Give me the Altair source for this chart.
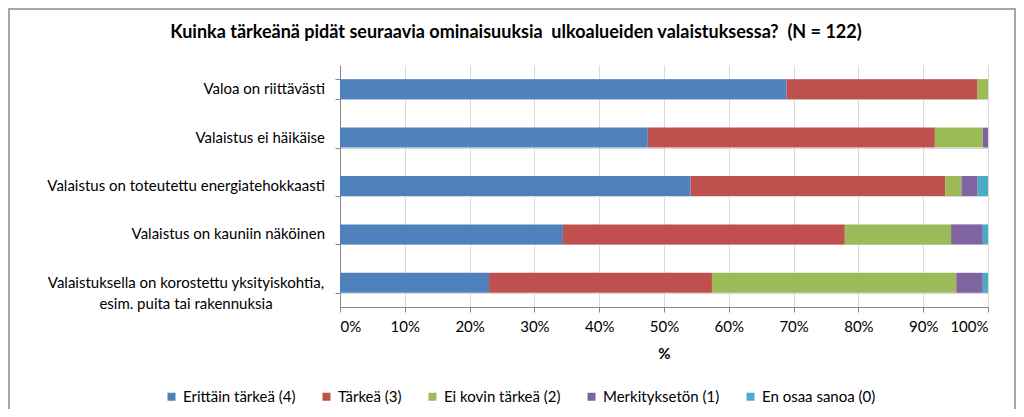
import altair as alt
import pandas as pd

title_text = "Kuinka tärkeänä pidät seuraavia ominaisuuksia\u00a0 ulkoalueiden valaistuksessa?\u00a0 (N = 122)"
items = [
    "Valoa on riittävästi",
    "Valaistus ei häikäise",
    "Valaistus on toteutettu energiatehokkaasti",
    "Valaistus on kauniin näköinen",
    "Valaistuksella on korostettu yksityiskohtia,|esim. puita tai rakennuksia",
]
levels = ["Erittäin tärkeä (4)", "Tärkeä (3)", "Ei kovin tärkeä (2)", "Merkityksetön (1)", "En osaa sanoa (0)"]
colors = ["#4F81BD", "#C0504D", "#9BBB59", "#8064A2", "#4BACC6"]

erittain_tarkea = [68.9, 47.5, 54.1, 34.4, 23.0]
tarkea = [29.5, 44.3, 39.3, 43.5, 34.4]
ei_kovin_tarkea = [1.6, 7.4, 2.5, 16.4, 37.7]
merkitykseton = [0.0, 0.8, 2.5, 4.9, 4.1]
en_osaa_sanoa = [0.0, 0.0, 1.6, 0.8, 0.8]
x_ticks = [0, 10, 20, 30, 40, 50, 60, 70, 80, 90, 100]

series = [erittain_tarkea, tarkea, ei_kovin_tarkea, merkitykseton, en_osaa_sanoa]
rows = []
for li, (lev, vals) in enumerate(zip(levels, series)):
    for it, v in zip(items, vals):
        rows.append({"item": it, "level": lev, "order": li, "value": v})
df = pd.DataFrame(rows)
labels_df = pd.DataFrame({"item": items, "multi": ["|" in s for s in items]})

FONT = "Lato"
LBL = 15
y_enc = alt.Y("item:N", sort=items, scale=alt.Scale(paddingInner=0.587, paddingOuter=0.2935),
              axis=alt.Axis(title=None, labels=False, tickBand="extent", grid=True, gridColor="#d9d9d9",
                            domainColor="#868686", tickColor="#868686", tickSize=5))

bars = alt.Chart(df).mark_bar(size=20).encode(
    y=y_enc,
    x=alt.X("value:Q", stack="zero", scale=alt.Scale(domain=[0, 100], nice=False),
            axis=alt.Axis(values=x_ticks, labelExpr="datum.value + '%'", title="%",
                          grid=True, gridColor="#d9d9d9", domainColor="#868686", tickColor="#868686",
                          tickSize=5, labelFont=FONT, labelFontSize=LBL, labelColor="#000000",
                          labelPadding=7, titleFont=FONT, titleFontSize=15, titleFontWeight="bold",
                          titleColor="#000000", titlePadding=12)),
    color=alt.Color("level:N", sort=levels, scale=alt.Scale(domain=levels, range=colors),
                    legend=alt.Legend(title=None, orient="none", direction="horizontal", legendX=-176,
                                      legendY=324, symbolType="square", symbolSize=64,
                                      symbolStrokeWidth=0, labelFont=FONT, labelFontSize=LBL,
                                      labelColor="#000000", columnPadding=23)),
    order=alt.Order("order:Q", sort="ascending"),
)

single_labels = alt.Chart(labels_df).transform_filter("!datum.multi").mark_text(
    align="right", baseline="middle", font=FONT, fontSize=LBL, color="#000000"
).encode(y=alt.Y("item:N", sort=items), x=alt.value(-15), text="item:N")

multi_labels = alt.Chart(labels_df).transform_filter("datum.multi").mark_text(
    align="center", baseline="middle", font=FONT, fontSize=LBL, color="#000000", lineBreak="|",
    lineHeight=21
).encode(y=alt.Y("item:N", sort=items), x=alt.value(-15 - 139), text="item:N")

title = alt.Chart(pd.DataFrame({"t": [title_text]})).mark_text(
    align="center", baseline="middle", font=FONT, fontSize=18, fontWeight="bold", color="#000000"
).encode(x=alt.value(176), y=alt.value(-32), text="t:N")

frame = alt.Chart(pd.DataFrame({"a": [0]})).mark_rect(fill=None, stroke="#a6a6a6", strokeWidth=2).encode(
    x=alt.value(-331), x2=alt.value(675), y=alt.value(-56), y2=alt.value(360)
)

chart = alt.layer(frame, bars, single_labels, multi_labels, title).properties(
    width=648, height=242,
    padding={"left": 332, "top": 57, "right": 28, "bottom": 102},
    autosize=alt.AutoSizeParams(type="none"),
).configure_view(stroke=None)

chart.save("out.html", embed_options={"renderer": "svg", "actions": False})
